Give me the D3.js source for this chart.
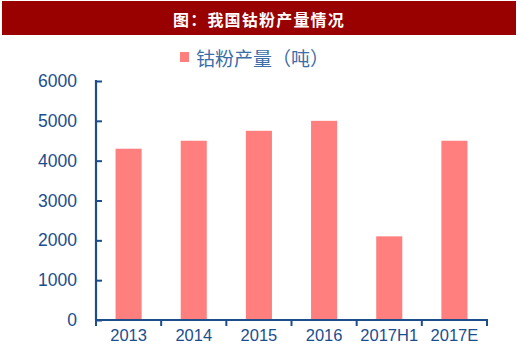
<!DOCTYPE html>
<html>
<head>
<meta charset="utf-8">
<script src="https://cdn.jsdelivr.net/npm/d3@7"></script>
<style>
  body { margin: 0; background: #fff; }
  svg { display: block; }
</style>
</head>
<body>
<svg id="chart" width="520" height="361"></svg>
<script>
// 钴粉产量 by year
const categories = ["2013", "2014", "2015", "2016", "2017H1", "2017E"];
const output = [4300, 4500, 4750, 5000, 2100, 4500];
const yTicks = [0, 1000, 2000, 3000, 4000, 5000, 6000];
const title = "图：我国钴粉产量情况";
const seriesName = "钴粉产量（吨）";

const axisColor = "#1c4e8e";
const barColor = "#ff7f7f";

const svg = d3.select("#chart");

// title bar
svg.append("rect")
    .attr("x", 2).attr("y", 1)
    .attr("width", 514).attr("height", 34)
    .attr("fill", "#990000");
svg.append("text")
    .attr("x", 259).attr("y", 19)
    .attr("text-anchor", "middle")
    .attr("dominant-baseline", "central")
    .attr("fill", "#fff")
    .attr("font-family", "'Noto Sans CJK SC', sans-serif")
    .attr("font-weight", "bold")
    .attr("font-size", 16)
    .attr("letter-spacing", 1.2)
    .text(title);

// legend
svg.append("rect")
    .attr("x", 180).attr("y", 52)
    .attr("width", 9).attr("height", 10)
    .attr("fill", barColor);
svg.append("text")
    .attr("x", 196).attr("y", 57)
    .attr("dominant-baseline", "central")
    .attr("fill", "#3b6ea8")
    .attr("font-family", "'Noto Sans CJK SC', sans-serif")
    .attr("font-size", 19)
    .text(seriesName);

// scales
const x = d3.scaleBand()
    .domain(categories)
    .range([96, 487])
    .padding(0);
const y = d3.scaleLinear()
    .domain([0, 6000])
    .range([320, 81]);

const barW = x.bandwidth() * 0.4;

svg.append("g")
    .selectAll("rect")
    .data(categories)
    .join("rect")
    .attr("x", d => x(d) + x.bandwidth() / 2 - barW / 2)
    .attr("y", (d, i) => y(output[i]))
    .attr("width", barW)
    .attr("height", (d, i) => y(0) - y(output[i]))
    .attr("fill", barColor);

// y axis, ticks pointing inward
const yAxis = svg.append("g")
    .attr("transform", "translate(96,0)")
    .call(d3.axisRight(y).tickValues(yTicks).tickSize(6).tickFormat(""));
yAxis.select(".domain").remove();
yAxis.selectAll(".tick line").attr("stroke", axisColor).attr("stroke-width", 2);
svg.append("line")
    .attr("x1", 96).attr("x2", 96)
    .attr("y1", y(6000) - 1).attr("y2", y(0))
    .attr("stroke", axisColor).attr("stroke-width", 2.2);

svg.append("g")
    .selectAll("text")
    .data(yTicks)
    .join("text")
    .attr("x", 77)
    .attr("y", d => y(d))
    .attr("text-anchor", "end")
    .attr("dominant-baseline", "central")
    .attr("fill", axisColor)
    .attr("font-family", "'Liberation Sans', Arial, sans-serif")
    .attr("font-size", 17.5)
    .text(d => d);

// x axis with boundary ticks
const edges = categories.map(c => x(c)).concat([x.range()[1]]);
svg.append("line")
    .attr("x1", 95).attr("x2", 488)
    .attr("y1", 320).attr("y2", 320)
    .attr("stroke", axisColor).attr("stroke-width", 2.2);
svg.append("g")
    .selectAll("line")
    .data(edges)
    .join("line")
    .attr("x1", d => d).attr("x2", d => d)
    .attr("y1", 320).attr("y2", 326)
    .attr("stroke", axisColor).attr("stroke-width", 2);

svg.append("g")
    .selectAll("text")
    .data(categories)
    .join("text")
    .attr("x", d => x(d) + x.bandwidth() / 2)
    .attr("y", 335)
    .attr("text-anchor", "middle")
    .attr("dominant-baseline", "central")
    .attr("fill", axisColor)
    .attr("font-family", "'Liberation Sans', Arial, sans-serif")
    .attr("font-size", 16.5)
    .text(d => d);
</script>
</body>
</html>
